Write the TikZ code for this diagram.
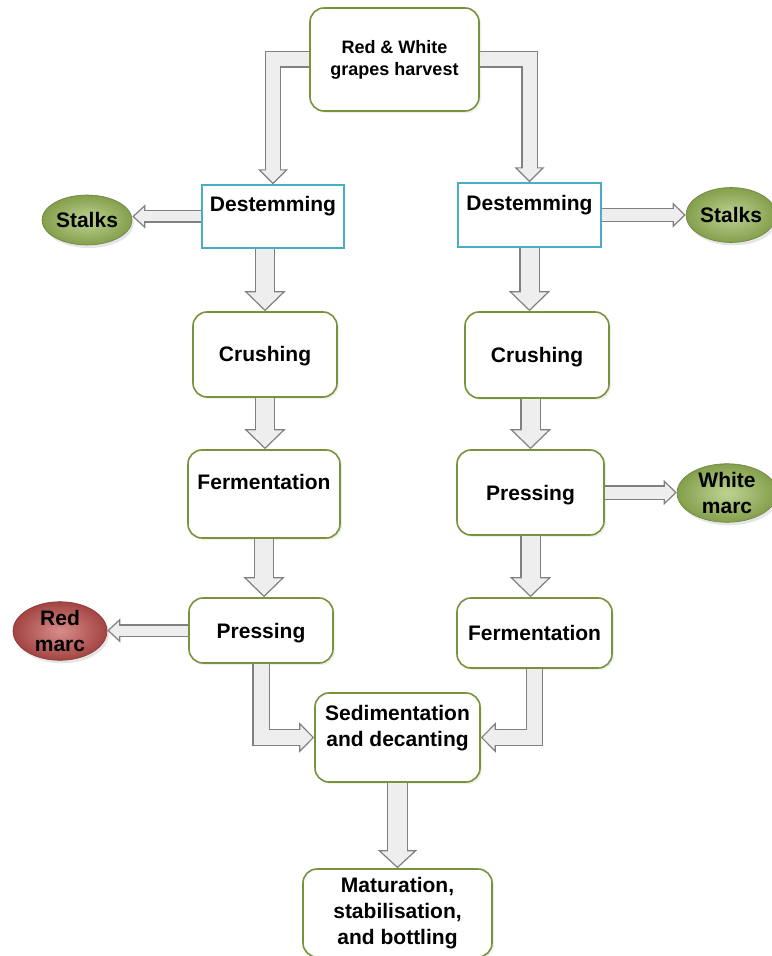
\documentclass[tikz,border=0pt]{standalone}
\usepackage{fontspec}
\setmainfont{Liberation Sans}
\usetikzlibrary{arrows.meta,positioning,shapes.geometric,shadows,calc}
\definecolor{leafline}{RGB}{119,147,60}
\definecolor{skyline}{RGB}{75,172,198}
\definecolor{arrowline}{RGB}{128,128,128}
\definecolor{arrowfill}{RGB}{238,238,238}
\definecolor{stalkgreen}{RGB}{155,187,89}
\definecolor{marcred}{RGB}{192,80,77}
\newcommand{\fatarrow}[4]{%
  \draw[line width=#1+1.2pt, draw=arrowline, miter limit=10,
        -{Triangle[length=#2, width=#3, line width=0.6pt, fill=arrowfill]}] #4;
  \draw[line width=#1, draw=arrowfill, miter limit=10, shorten >=#2-0.9pt] #4;
}
\tikzset{
  proc/.style={draw=leafline, line width=0.8pt, rounded corners=7pt, fill=white,
    drop shadow={opacity=0.12, shadow xshift=1pt, shadow yshift=-1pt},
    font=\fontsize{10.5}{13}\selectfont\bfseries, align=center, inner sep=0pt},
  stem/.style={draw=skyline, line width=0.7pt, fill=white,
    font=\fontsize{10.5}{13}\selectfont\bfseries, align=center, inner sep=0pt},
  oneline/.style={text height=7.5pt, text depth=0pt},
  uptext/.style={text height=7.5pt, text depth=12pt},
  waste/.style={ellipse, inner sep=0pt, shading=radial, inner color=#1!65!white,
    outer color=#1!85!black, draw=#1!70!black, line width=0.3pt,
    drop shadow={opacity=0.2, shadow xshift=1pt, shadow yshift=-1.5pt},
    font=\fontsize{10.5}{13}\selectfont\bfseries, align=center}
}
\begin{document}
\begin{tikzpicture}[x=0.5pt, y=-0.5pt]
\useasboundingbox[fill=white] (0,0) rectangle (771,956);
\node[proc, font=\fontsize{9}{11}\selectfont\bfseries, minimum width=84.5pt, minimum height=51.5pt] (top) at (394.5,59.5) {Red \& White\\grapes harvest};
\node[stem, uptext, minimum width=71pt, minimum height=31.5pt] (dl) at (273,216.5) {Destemming};
\node[stem, uptext, minimum width=71.5pt, minimum height=32pt] (dr) at (529.5,215) {Destemming};
\node[waste=stalkgreen, minimum width=45pt, minimum height=25pt] (stl) at (87,220) {Stalks};
\node[waste=stalkgreen, minimum width=45pt, minimum height=27.5pt] (str) at (731,215) {Stalks};
\node[proc, oneline, minimum width=72pt, minimum height=42.5pt] (cl) at (265,354.5) {Crushing};
\node[proc, oneline, minimum width=72pt, minimum height=43pt] (cr) at (537,355) {Crushing};
\node[proc, uptext, minimum width=76pt, minimum height=44pt] (fl) at (264,494) {Fermentation};
\node[proc, oneline, minimum width=73.5pt, minimum height=42.5pt] (pr) at (530.5,492.5) {Pressing};
\node[waste=stalkgreen, minimum width=50pt, minimum height=28.5pt] (wm) at (727,493) {White\\marc};
\node[proc, oneline, minimum width=72pt, minimum height=32.5pt] (pl) at (261,630.5) {Pressing};
\node[waste=marcred, minimum width=47pt, minimum height=26.5pt] (rm) at (60,631) {Red\\marc};
\node[proc, oneline, minimum width=77.5pt, minimum height=35pt] (fr) at (534.5,633) {Fermentation};
\node[proc, text depth=12pt, minimum width=82.5pt, minimum height=44.5pt] (sd) at (397.5,737.5) {Sedimentation\\and decanting};
\node[proc, minimum width=94.5pt, minimum height=44pt] (mt) at (397.5,913) {Maturation,\\stabilisation,\\and bottling};

\fatarrow{7pt}{7.5pt}{15pt}{(top.west) -| (dl.north)}
\fatarrow{7pt}{7.5pt}{15pt}{(top.east) -| (dr.north)}
\fatarrow{5pt}{6.5pt}{12pt}{(dl.west) -- (dl.west -| stl.east)}
\fatarrow{6pt}{6.5pt}{12.5pt}{(dr.east) -- (dr.east -| str.west)}
\fatarrow{9pt}{10pt}{20.5pt}{(dl.south -| cl.north) -- (cl.north)}
\fatarrow{9pt}{10pt}{20.5pt}{(dr.south) -- (dr.south |- cr.north)}
\fatarrow{9pt}{10pt}{20.5pt}{(cl.south) -- (cl.south |- fl.north)}
\fatarrow{9pt}{10pt}{20.5pt}{(cr.south -| pr.north) -- (pr.north)}
\fatarrow{6pt}{6.5pt}{12.5pt}{(pr.east) -- (pr.east -| wm.west)}
\fatarrow{9pt}{10pt}{20.5pt}{(fl.south) -- (fl.south |- pl.north)}
\fatarrow{9pt}{10pt}{20.5pt}{(pr.south) -- (pr.south |- fr.north)}
\fatarrow{5pt}{6.5pt}{12pt}{(pl.west) -- (pl.west -| rm.east)}
\fatarrow{7.5pt}{7.5pt}{15pt}{(pl.south) |- (sd.west)}
\fatarrow{7.5pt}{7.5pt}{15pt}{(fr.south) |- (sd.east)}
\fatarrow{9.5pt}{9pt}{19.5pt}{(sd.south) -- (mt.north)}
\end{tikzpicture}
\end{document}
